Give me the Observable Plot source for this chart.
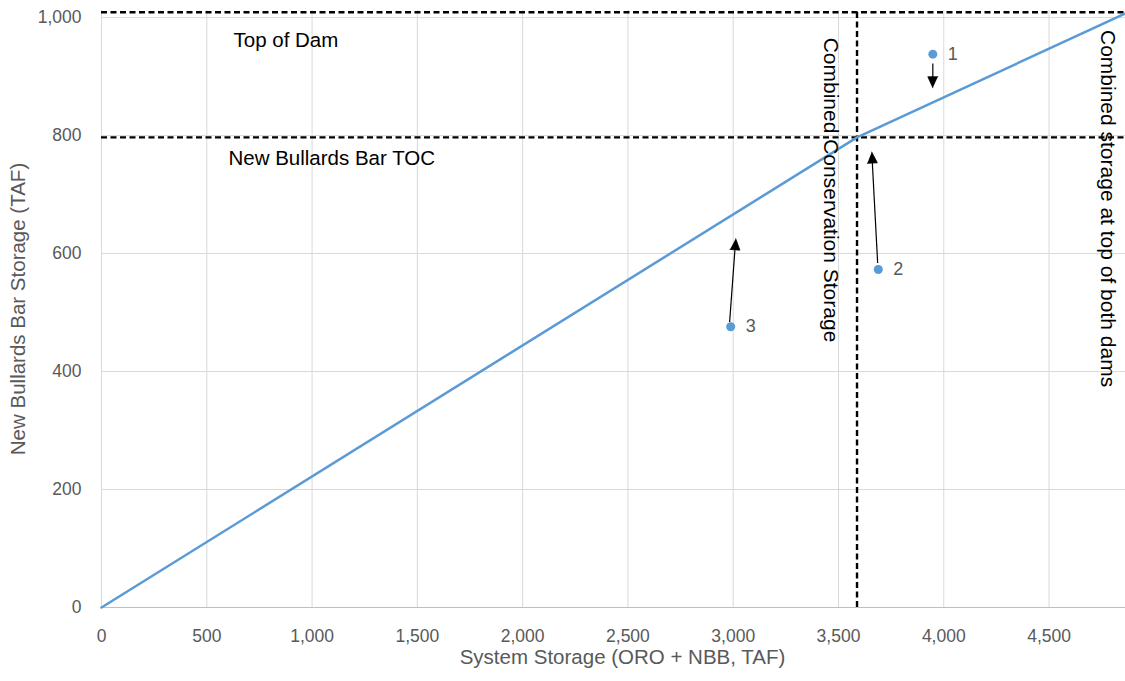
<!DOCTYPE html>
<html><head><meta charset="utf-8">
<script src="https://cdn.jsdelivr.net/npm/d3@7"></script>
<script src="https://cdn.jsdelivr.net/npm/@observablehq/plot@0.6"></script>
<style>body{margin:0;background:#fff} svg{display:block}</style>
</head><body><div id="chart"></div>
<script>
// ---- data ----
const xTicks = [0, 500, 1000, 1500, 2000, 2500, 3000, 3500, 4000, 4500];
const yTicks = [0, 200, 400, 600, 800, 1000];
const curveX = [0, 3588, 4863];
const curveY = [0, 797, 1007];
const topOfDam = 1009;
const nbbTOC = 797;
const consStorage = 3588;
const ptX = [3948, 3689, 2988];
const ptY = [938, 573, 476];
const ptLabel = ["1", "2", "3"];
const arrX1 = [3948, 3686, 2983];
const arrY1 = [922, 584, 484];
const arrX2 = [3948, 3658, 3012];
const arrY2 = [881, 772, 625];
const noteText = ["Top of Dam", "New Bullards Bar TOC"];
const noteX = [627, 603];
const noteY = [962, 761];
const vNoteText = ["Combined Conservation Storage", "Combined storage at top of both dams"];
const vNoteX = [3463, 4779];
const vNoteY = [966, 979];

// ---- build ----
const curve = curveX.map((x, i) => ({x, y: curveY[i]}));
const pts = ptX.map((x, i) => ({x, y: ptY[i], label: ptLabel[i]}));
const notes = noteText.map((t, i) => ({t, x: noteX[i], y: noteY[i]}));
const vNotes = vNoteText.map((t, i) => ({t, x: vNoteX[i], y: vNoteY[i]}));

const base = {
  width: 1125, height: 681,
  marginLeft: 101, marginRight: 0, marginTop: 10, marginBottom: 74,
  x: {domain: [0, 4863], ticks: xTicks, tickFormat: d3.format(","), tickSize: 0, tickPadding: 22, label: null},
  y: {domain: [0, 1012], ticks: yTicks, tickFormat: d3.format(","), tickSize: 0, tickPadding: 20, label: null},
  style: {fontFamily: "Liberation Sans, Arial, sans-serif", fontSize: "17.5px", color: "#595959", background: "#fff"}
};
const probe = Plot.plot({...base, marks: [Plot.dot([{x: 0, y: 0}], {x: "x", y: "y"})]});
const sx = probe.scale("x"), sy = probe.scale("y");

const shafts = [], heads = [];
arrX1.forEach((_, i) => {
  const p1 = [sx.apply(arrX1[i]), sy.apply(arrY1[i])];
  const p2 = [sx.apply(arrX2[i]), sy.apply(arrY2[i])];
  const dx = p2[0] - p1[0], dy = p2[1] - p1[1];
  const len = Math.hypot(dx, dy);
  const ux = dx / len, uy = dy / len;
  const L = 11, W = 5;
  const b = [p2[0] - ux * L, p2[1] - uy * L];
  const toData = p => ({x: sx.invert(p[0]), y: sy.invert(p[1])});
  shafts.push({...toData(p1), x2: sx.invert(b[0] + ux), y2: sy.invert(b[1] + uy)});
  [p2, [b[0] - uy * W, b[1] + ux * W], [b[0] + uy * W, b[1] - ux * W]].forEach(p => heads.push({...toData(p), id: i}));
});

const dash = "6,3.5";
const chart = Plot.plot({
  ...base,
  marks: [
    Plot.ruleX(xTicks.filter(d => d > 0), {stroke: "#d9d9d9", strokeWidth: 1}),
    Plot.ruleY(yTicks.filter(d => d > 0), {stroke: "#d9d9d9", strokeWidth: 1}),
    Plot.ruleX([0], {stroke: "#d9d9d9", strokeWidth: 1}),
    Plot.ruleY([0], {stroke: "#bfbfbf", strokeWidth: 1.2}),
    Plot.ruleY([topOfDam, nbbTOC], {stroke: "#000", strokeWidth: 2.4, strokeDasharray: dash}),
    Plot.ruleX([consStorage], {y1: 0, y2: topOfDam, stroke: "#000", strokeWidth: 2.4, strokeDasharray: dash}),
    Plot.line(curve, {x: "x", y: "y", stroke: "#5b9bd5", strokeWidth: 2.5}),
    Plot.link(shafts, {x1: "x", y1: "y", x2: "x2", y2: "y2", stroke: "#000", strokeWidth: 1.2}),
    Plot.line(heads, {x: "x", y: "y", z: "id", fill: "#000", stroke: "#000", strokeWidth: 0.8}),
    Plot.dot(pts, {x: "x", y: "y", r: 4.5, fill: "#5b9bd5"}),
    Plot.text(pts, {x: "x", y: "y", text: "label", dx: 15, textAnchor: "start", fontSize: 18, fill: "#595959"}),
    Plot.text(notes, {x: "x", y: "y", text: "t", textAnchor: "start", fontSize: 20.5, fill: "#000"}),
    Plot.text(vNotes, {x: "x", y: "y", text: "t", rotate: 90, textAnchor: "start", fontSize: 21, fill: "#000"}),
    Plot.text(["New Bullards Bar Storage (TAF)"], {frameAnchor: "left", textAnchor: "middle", dx: -83, rotate: -90, fontSize: 20.5, fill: "#595959"}),
    Plot.text(["System Storage (ORO + NBB, TAF)"], {frameAnchor: "bottom", textAnchor: "middle", dx: 9, dy: 56, fontSize: 20.5, fill: "#595959"})
  ]
});
document.getElementById("chart").appendChild(chart);
</script></body></html>
